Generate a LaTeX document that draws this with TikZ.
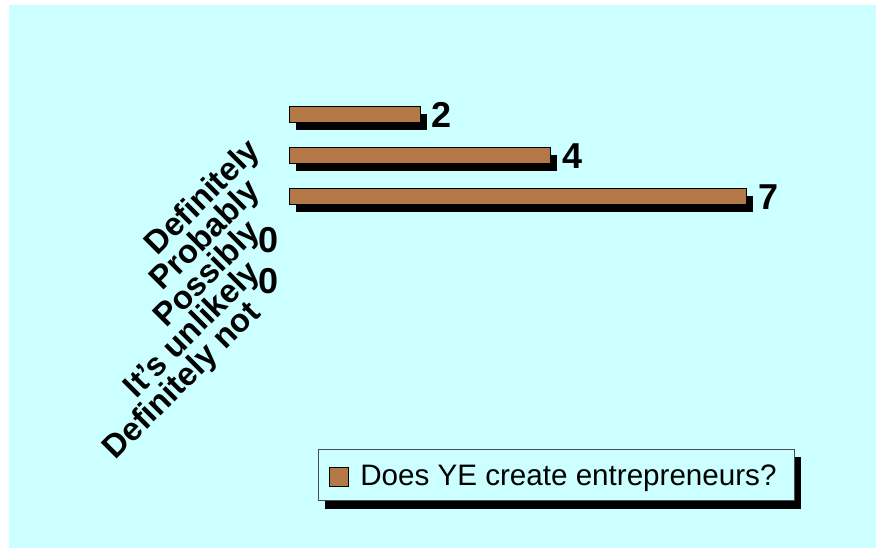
\documentclass[tikz,border=0pt]{standalone}
\usepackage{fontspec}
\setmainfont{Liberation Sans}
\usetikzlibrary{positioning, shadows}
\definecolor{ChartBg}{RGB}{204,255,255}
\definecolor{WoodColor}{RGB}{180,120,70}
\tikzstyle{bar} = [draw=black, line width=0.75pt, fill=WoodColor, inner sep=0pt, minimum height=12pt, anchor=west,
  drop shadow={shadow xshift=5pt, shadow yshift=-5.5pt, opacity=1, fill=black}]
\tikzstyle{value} = [inner sep=0pt, font=\fontsize{27}{32}\selectfont\bfseries]
\tikzstyle{category} = [anchor=east, inner sep=0pt, rotate=45, font=\fontsize{24.5}{29}\selectfont\bfseries]

\begin{document}
\begin{tikzpicture}[x=0.75pt, y=-0.75pt]
    \useasboundingbox (0,0) rectangle (876,548);
    \fill[ChartBg] (9,5) rectangle (876,548);
    \foreach \v/\y [count=\i] in {2/115, 4/156, 7/197} {
        \node[bar, minimum width=48.98pt*\v] (bar\i) at (289,\y) {};
        \node[value, right=8pt of bar\i] (val\i) {\v};
    }
    \node[value, anchor=west] (val4) at (258,240) {0};
    \node[value, anchor=west] (val5) at (258,281) {0};
    \foreach \t [count=\i] in {Definitely, Probably, Possibly, It's unlikely, Definitely not} {
        \node[category] (cat\i) at (256,{106+40.5*\i}) {\t};
    }
    \node[draw=black!70, line width=0.6pt, fill=ChartBg, minimum width=357pt, minimum height=38.5pt,
      drop shadow={shadow xshift=5.5pt, shadow yshift=-6pt, opacity=1, fill=black}] (legend) at (556,475) {};
    \node[draw=black, line width=0.75pt, fill=WoodColor, minimum size=14.5pt, inner sep=0pt] (key) at (339,477) {};
    \node[anchor=base west, inner sep=0pt, font=\fontsize{22.2}{26}\selectfont] (keytext) at (360,486) {Does YE create entrepreneurs?};
\end{tikzpicture}
\end{document}
